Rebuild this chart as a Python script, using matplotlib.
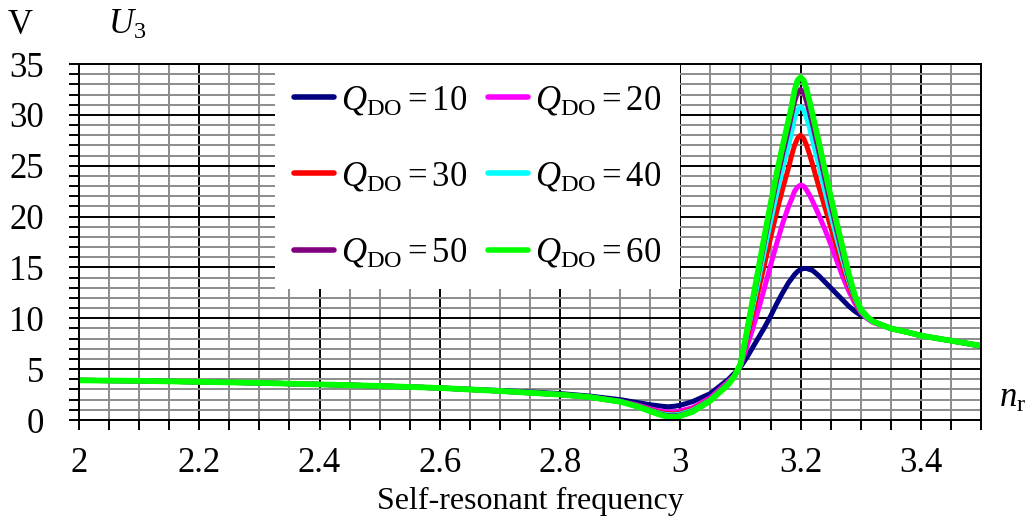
import matplotlib
matplotlib.use("Agg")
import matplotlib.pyplot as plt
from matplotlib.ticker import MultipleLocator, FuncFormatter

plt.rcParams['font.family'] = ['Liberation Serif', 'DejaVu Serif']
plt.rcParams['mathtext.fontset'] = 'custom'
plt.rcParams['mathtext.rm'] = 'Liberation Serif'
plt.rcParams['mathtext.it'] = 'Liberation Serif:italic'

# frequency points (n_r)
n_r = [2.0, 2.1, 2.2, 2.3, 2.4, 2.5, 2.6, 2.7, 2.8, 2.85,
       2.9, 2.93, 2.95, 2.97, 2.98, 2.99, 3.0, 3.02, 3.05, 3.08,
       3.09, 3.1, 3.11, 3.12, 3.13, 3.14, 3.15, 3.16, 3.17, 3.18,
       3.185, 3.19, 3.195, 3.2, 3.205, 3.21, 3.215, 3.22, 3.23, 3.24,
       3.25, 3.26, 3.27, 3.28, 3.29, 3.3, 3.31, 3.32, 3.35, 3.38,
       3.4, 3.45, 3.5]

# U3 in volts for each Q_DO
u_q10 = [3.9, 3.85, 3.75, 3.65, 3.5, 3.35, 3.15, 2.9, 2.6, 2.35,
         2.0, 1.7, 1.5, 1.35, 1.3, 1.35, 1.45, 1.8, 2.6, 4.0,
         4.6, 5.2, 6.1, 7.1, 8.1, 9.1, 10.2, 11.4, 12.5, 13.5,
         13.9, 14.3, 14.6, 14.8, 14.9, 14.9, 14.8, 14.7, 14.2, 13.6,
         13.0, 12.4, 11.8, 11.2, 10.7, 10.3, 10.1, 9.7, 9.0, 8.6,
         8.3, 7.8, 7.25]
u_q20 = [3.9, 3.85, 3.75, 3.65, 3.5, 3.35, 3.15, 2.85, 2.5, 2.25,
         1.85, 1.45, 1.1, 0.85, 0.8, 0.8, 0.9, 1.2, 2.2, 3.8,
         4.4, 5.3, 7.1, 8.9, 10.9, 13.0, 15.2, 17.3, 19.3, 21.0,
         21.7, 22.5, 22.9, 23.1, 23.0, 22.6, 22.1, 21.5, 20.2, 18.8,
         17.3, 15.7, 14.1, 12.7, 11.5, 10.6, 10.0, 9.6, 9.0, 8.6,
         8.3, 7.8, 7.3]
u_q30 = [3.9, 3.85, 3.75, 3.65, 3.5, 3.35, 3.15, 2.85, 2.5, 2.25,
         1.8, 1.4, 1.0, 0.7, 0.62, 0.6, 0.68, 1.05, 2.05, 3.7,
         4.3, 5.4, 7.9, 10.3, 12.8, 15.3, 17.9, 20.4, 22.7, 24.8,
         26.0, 27.0, 27.7, 28.0, 27.7, 27.0, 26.1, 25.1, 23.0, 21.0,
         19.0, 17.0, 15.1, 13.3, 11.8, 10.6, 10.1, 9.7, 9.0, 8.6,
         8.3, 7.8, 7.3]
u_q40 = [3.9, 3.85, 3.75, 3.65, 3.5, 3.35, 3.15, 2.85, 2.5, 2.25,
         1.8, 1.36, 0.95, 0.6, 0.52, 0.5, 0.58, 0.95, 2.0, 3.65,
         4.3, 5.4, 8.2, 11.0, 13.8, 16.7, 19.5, 22.2, 24.7, 27.0,
         28.3, 29.7, 30.5, 30.8, 30.5, 29.7, 28.7, 27.5, 25.1, 22.6,
         20.2, 17.9, 15.7, 13.7, 12.0, 10.7, 10.1, 9.7, 9.0, 8.6,
         8.3, 7.8, 7.3]
u_q50 = [3.9, 3.85, 3.75, 3.65, 3.5, 3.35, 3.15, 2.85, 2.5, 2.25,
         1.8, 1.33, 0.9, 0.52, 0.42, 0.4, 0.48, 0.85, 1.95, 3.6,
         4.3, 5.5, 8.4, 11.5, 14.5, 17.6, 20.6, 23.5, 26.1, 28.6,
         30.0, 31.3, 32.2, 32.5, 32.2, 31.3, 30.2, 29.0, 26.5, 23.8,
         21.2, 18.7, 16.3, 14.0, 12.1, 10.8, 10.2, 9.7, 9.0, 8.6,
         8.3, 7.8, 7.3]
u_q60 = [3.9, 3.85, 3.75, 3.65, 3.5, 3.35, 3.15, 2.85, 2.5, 2.25,
         1.8, 1.3, 0.85, 0.45, 0.33, 0.3, 0.4, 0.8, 1.9, 3.5,
         4.3, 5.5, 8.5, 11.7, 14.9, 18.1, 21.2, 24.2, 26.9, 29.5,
         30.8, 32.4, 33.4, 33.7, 33.4, 32.5, 31.3, 30.0, 27.4, 24.7,
         22.0, 19.4, 16.9, 14.4, 12.3, 10.9, 10.2, 9.7, 9.0, 8.6,
         8.3, 7.8, 7.3]

q_values = [10, 20, 30, 40, 50, 60]
series = [u_q10, u_q20, u_q30, u_q40, u_q50, u_q60]
colors = ['#000080', '#ff00ff', '#ff0000', '#00ffff', '#800080', '#00ff00']

fig = plt.figure(figsize=(10.27, 5.17), dpi=100)
ax = fig.add_axes([0.0769, 0.1876, 0.8783, 0.6886])

lines = []
for q, u, c in zip(q_values, series, colors):
    lw = 4.2 if q == 60 else 3.6
    ln, = ax.plot(n_r, u, color=c, lw=lw, solid_capstyle='round',
                  label=r'$Q_{\mathrm{DO}}=%d$' % q)
    lines.append(ln)

ax.set_xlim(2, 3.5)
ax.set_ylim(0, 35)
ax.xaxis.set_major_locator(MultipleLocator(0.2))
ax.xaxis.set_minor_locator(MultipleLocator(0.05))
ax.yaxis.set_major_locator(MultipleLocator(5))
ax.yaxis.set_minor_locator(MultipleLocator(1))
ax.xaxis.set_major_formatter(FuncFormatter(lambda v, p: '%g' % round(v, 2)))
ax.set_axisbelow(True)
ax.grid(which='minor', color='#8c8c8c', lw=1.4)
ax.grid(which='major', color='black', lw=1.4)
ax.tick_params(which='both', direction='out', length=7.2, width=1.4,
               labelsize=25)
ax.tick_params(axis='x', pad=12)
ax.tick_params(axis='y', pad=18)
for s in ax.spines.values():
    s.set_linewidth(1.4)

ax.set_xlabel('Self-resonant frequency', fontsize=23, labelpad=5)

fig.text(20 / 1027, 1 - 25 / 517, 'V', fontsize=25, ha='center', va='center')
fig.text(127 / 1027, 1 - 25 / 517, r'$U_3$', fontsize=25, ha='center', va='center')
fig.text(1013 / 1027, 1 - 398 / 517, r'$n_{\mathrm{r}}$', fontsize=25,
         ha='center', va='center')

# legend fills rows: 10 20 / 30 40 / 50 60
order = [0, 2, 4, 1, 3, 5]
leg = ax.legend([lines[i] for i in order], [lines[i].get_label() for i in order],
                ncol=2, loc='upper left', bbox_to_anchor=(0.2173, 0.997),
                borderaxespad=0, fontsize=25, handlelength=1.15,
                handletextpad=0.2, columnspacing=0.6, labelspacing=1.25,
                borderpad=0.55, frameon=True, fancybox=False,
                facecolor='white', edgecolor='none', framealpha=1)
for h in leg.get_lines():
    h.set_linewidth(4)

fig.savefig('out.png', dpi=100)
